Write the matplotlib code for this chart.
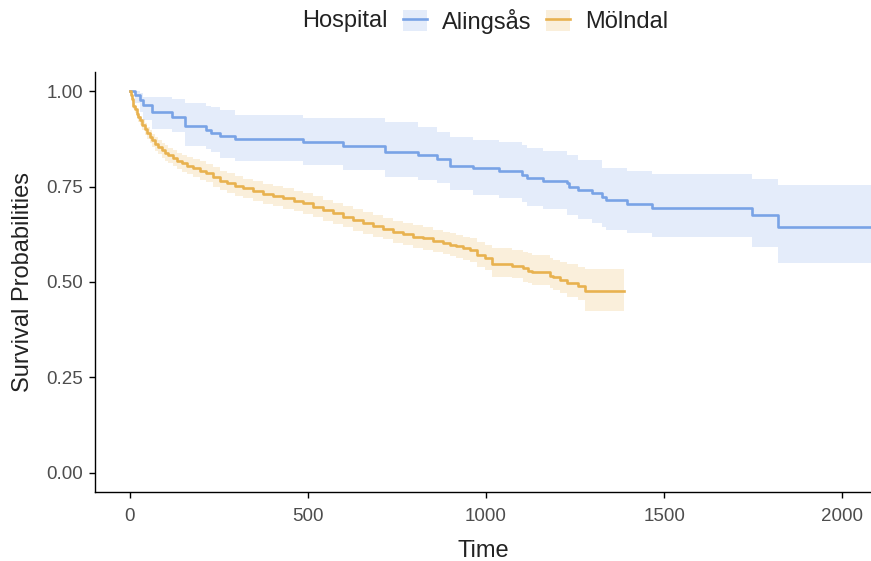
import matplotlib.pyplot as plt
from matplotlib.patches import Patch
from matplotlib.lines import Line2D
from matplotlib.legend_handler import HandlerTuple

# Alingsås: step times, survival, CI lower/upper (last entry = end of follow-up)
aling_time = [0, 14, 28, 37, 61, 117, 154, 215, 229, 253, 295, 487, 599, 716, 810, 861,
              899, 964, 1037, 1100, 1114, 1161, 1226, 1234, 1259, 1297, 1325, 1337, 1395,
              1465, 1746, 1821, 2100]
aling_surv = [1.000, 0.990, 0.977, 0.964, 0.944, 0.933, 0.908, 0.898, 0.891, 0.883, 0.874,
              0.867, 0.857, 0.841, 0.832, 0.822, 0.805, 0.798, 0.791, 0.780, 0.773, 0.765,
              0.758, 0.748, 0.741, 0.732, 0.723, 0.715, 0.704, 0.695, 0.675, 0.645, 0.645]
aling_upper = [1.000, 1.000, 0.995, 0.985, 0.985, 0.978, 0.968, 0.962, 0.958, 0.950, 0.937,
               0.929, 0.929, 0.920, 0.907, 0.894, 0.880, 0.873, 0.867, 0.858, 0.851, 0.843,
               0.832, 0.832, 0.820, 0.820, 0.798, 0.798, 0.790, 0.782, 0.769, 0.755, 0.755]
aling_lower = [1.000, 0.970, 0.945, 0.924, 0.900, 0.893, 0.856, 0.848, 0.840, 0.826, 0.817,
               0.806, 0.794, 0.775, 0.767, 0.760, 0.741, 0.728, 0.719, 0.710, 0.699, 0.690,
               0.675, 0.675, 0.666, 0.655, 0.645, 0.636, 0.628, 0.617, 0.591, 0.549, 0.549]

# Mölndal
moln_time = [0, 3, 6, 9, 13, 19, 24, 28, 35, 42, 49, 56, 63, 70, 80, 89, 98, 108, 120, 131,
             145, 159, 178, 197, 215, 234, 253, 272, 295, 318, 345, 374, 402, 431, 460, 487,
             515, 543, 571, 599, 627, 655, 683, 711, 740, 768, 796, 824, 852, 880, 899, 917,
             936, 955, 975, 997, 1016, 1072, 1105, 1119, 1128, 1180, 1189, 1208, 1227, 1259,
             1278, 1388]
moln_surv = [1.000, 0.990, 0.978, 0.962, 0.952, 0.940, 0.931, 0.923, 0.912, 0.901, 0.890,
             0.880, 0.871, 0.862, 0.853, 0.845, 0.838, 0.832, 0.825, 0.818, 0.811, 0.805,
             0.798, 0.792, 0.785, 0.775, 0.765, 0.760, 0.752, 0.745, 0.738, 0.730, 0.725,
             0.719, 0.712, 0.706, 0.697, 0.688, 0.680, 0.671, 0.662, 0.655, 0.647, 0.640,
             0.632, 0.625, 0.619, 0.614, 0.608, 0.603, 0.598, 0.594, 0.589, 0.584, 0.571,
             0.563, 0.547, 0.543, 0.536, 0.530, 0.525, 0.517, 0.512, 0.505, 0.498, 0.490,
             0.476, 0.476]
moln_upper = [1.000, 0.994, 0.984, 0.970, 0.961, 0.951, 0.943, 0.936, 0.926, 0.916, 0.906,
              0.897, 0.888, 0.880, 0.872, 0.864, 0.858, 0.852, 0.846, 0.839, 0.833, 0.827,
              0.821, 0.816, 0.809, 0.800, 0.790, 0.786, 0.778, 0.771, 0.765, 0.757, 0.752,
              0.746, 0.739, 0.734, 0.725, 0.716, 0.708, 0.699, 0.690, 0.683, 0.675, 0.668,
              0.661, 0.654, 0.648, 0.643, 0.637, 0.632, 0.628, 0.624, 0.619, 0.614, 0.606,
              0.597, 0.588, 0.584, 0.579, 0.575, 0.570, 0.562, 0.558, 0.553, 0.547, 0.540,
              0.534, 0.534]
moln_lower = [1.000, 0.986, 0.972, 0.954, 0.943, 0.929, 0.919, 0.910, 0.898, 0.886, 0.874,
              0.863, 0.854, 0.844, 0.834, 0.826, 0.818, 0.812, 0.804, 0.797, 0.789, 0.783,
              0.775, 0.768, 0.761, 0.750, 0.740, 0.734, 0.726, 0.719, 0.711, 0.703, 0.698,
              0.692, 0.685, 0.678, 0.669, 0.660, 0.652, 0.643, 0.634, 0.627, 0.619, 0.612,
              0.603, 0.596, 0.590, 0.585, 0.579, 0.574, 0.568, 0.564, 0.558, 0.553, 0.540,
              0.531, 0.514, 0.510, 0.501, 0.497, 0.492, 0.483, 0.478, 0.470, 0.462, 0.453,
              0.424, 0.424]

hospitals = ['Alingsås', 'Mölndal']
colors = ['#79A3E6', '#E8B24F']

plt.rcParams['font.family'] = ['Liberation Sans', 'DejaVu Sans']

fig = plt.figure(figsize=(8.71, 5.61), dpi=100)
ax = fig.add_axes([95 / 871, 1 - 492 / 561, 1 - 95 / 871, (492 - 72) / 561])

series = [
    (aling_time, aling_surv, aling_lower, aling_upper),
    (moln_time, moln_surv, moln_lower, moln_upper),
]
handles = []
for (t, s, lo, hi), color in zip(series, colors):
    ax.fill_between(t, lo, hi, step='post', color=color, alpha=0.2, linewidth=0)
    ax.step(t, s, where='post', color=color, linewidth=1.9)
    handles.append((Patch(facecolor=color, alpha=0.2, edgecolor='none'),
                    Line2D([], [], color=color, linewidth=1.9)))

ax.set_xlim(-98, 2081)
ax.set_ylim(-0.05, 1.05)
ax.set_xticks([0, 500, 1000, 1500, 2000])
ax.set_yticks([0, 0.25, 0.5, 0.75, 1.0])
ax.set_yticklabels(['0.00', '0.25', '0.50', '0.75', '1.00'])
for side in ['top', 'right']:
    ax.spines[side].set_visible(False)
for side in ['left', 'bottom']:
    ax.spines[side].set_linewidth(1.0)
ax.tick_params(length=4.5, width=1.0, labelsize=13.5, colors='black', labelcolor='#4D4D4D', pad=4)
ax.tick_params(axis='x', pad=7)
ax.set_xlabel('Time', fontsize=17, color='#222222', labelpad=11)
ax.set_ylabel('Survival Probabilities', fontsize=17, color='#222222', labelpad=9)

fig.text(345 / 871, 1 - 21 / 561, 'Hospital', fontsize=17, color='#222222', ha='center', va='center')
fig.legend(handles, hospitals, handler_map={tuple: HandlerTuple(ndivide=1, pad=0)},
           loc='center left', bbox_to_anchor=(403 / 871, 1 - 21 / 561), ncol=2, frameon=False,
           fontsize=17, handlelength=1.0, handleheight=1.0, handletextpad=0.64,
           columnspacing=0.64, borderpad=0, borderaxespad=0, labelcolor='#222222')

fig.savefig('out.png', dpi=100)
